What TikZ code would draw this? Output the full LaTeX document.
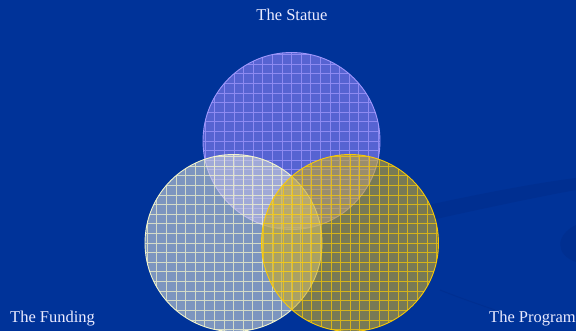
\documentclass[tikz,border=0pt]{standalone}
\usepackage{fontspec}
\setmainfont{Liberation Serif}
\begin{document}
\begin{tikzpicture}[x=1pt,y=-1pt,
  lbl/.style={text=white!92!blue, font=\fontsize{16.5}{18}\selectfont, inner sep=0pt},
  venn/.style n args={3}{circle, minimum size=177pt, inner sep=0pt,
     fill=#1, fill opacity=#3, draw=#2, line width=0.9pt, draw opacity=0.95,
     path picture={\draw[#2, draw opacity=0.7, line width=0.6pt, step=9.6pt]
        (path picture bounding box.south west) grid (path picture bounding box.north east);}}
]
\definecolor{bg}{RGB}{0,51,153}
\definecolor{swoosh}{RGB}{0,47,145}
\definecolor{statF}{RGB}{140,130,245}
\definecolor{statL}{RGB}{165,155,255}
\definecolor{fundF}{RGB}{215,220,220}
\definecolor{fundL}{RGB}{250,250,205}
\definecolor{progF}{RGB}{200,170,40}
\definecolor{progL}{RGB}{255,205,0}
\fill[bg] (0,0) rectangle (576,331);
\useasboundingbox (0,0) rectangle (576,331);
% background swoosh
\fill[swoosh] (300,235) .. controls (420,205) and (520,185) .. (576,178)
   -- (576,190) .. controls (520,200) and (420,222) .. (300,250) -- cycle;
\fill[swoosh] (576,225) .. controls (555,235) and (555,255) .. (576,262) -- cycle;
\draw[swoosh, line width=1pt] (440,290) .. controls (460,298) and (475,303) .. (495,310);
% circles
\node[venn={statF}{statL}{0.62}] (statue) at (291.5,141) {};
\node[venn={fundF}{fundL}{0.58}] (funding) at (233.5,243) {};
\node[venn={progF}{progL}{0.6}] (program) at (350,243) {};
% labels
\node[lbl] (tstatue) at (292,15) {The Statue};
\node[lbl, anchor=west] (tfunding) at (10,319) {The Funding};
\node[lbl, anchor=east] (tprogram) at (576,319) {The Program};
\end{tikzpicture}
\end{document}
